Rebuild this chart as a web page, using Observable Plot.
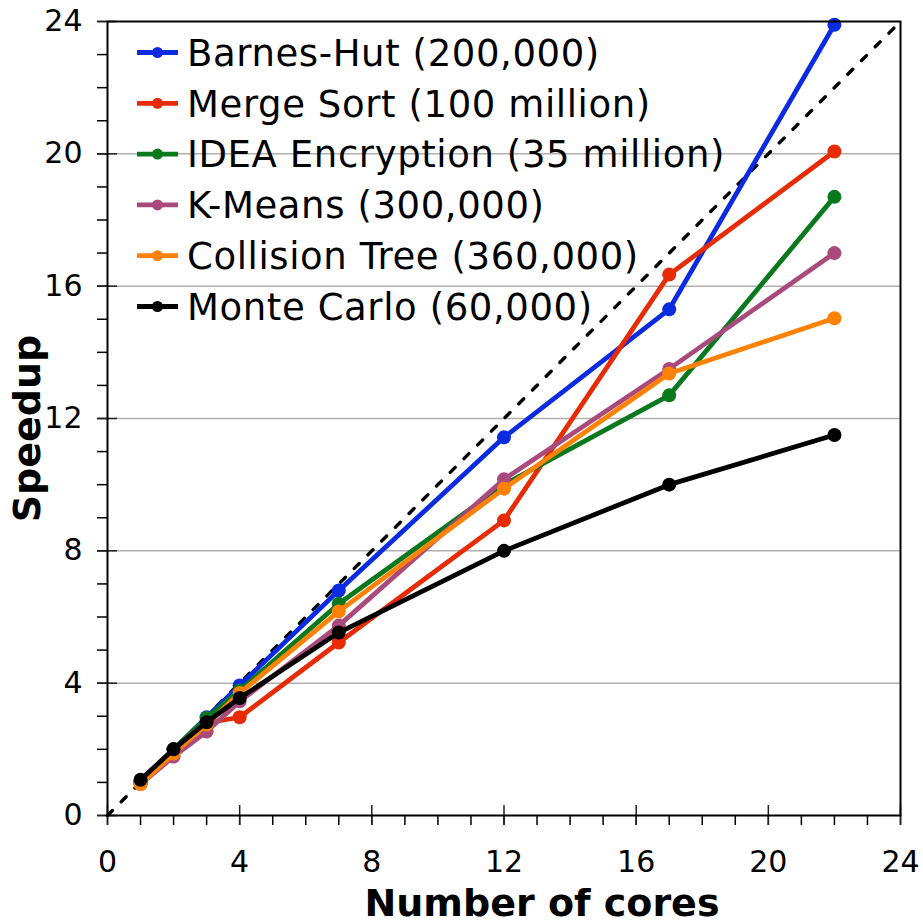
<!DOCTYPE html>
<html><head><meta charset="utf-8">
<script src="https://cdn.jsdelivr.net/npm/d3@7"></script>
<script src="https://cdn.jsdelivr.net/npm/@observablehq/plot@0.6"></script>
<style>
body{margin:0;background:#fff;font-family:"DejaVu Sans",Verdana,sans-serif}
#chart{position:relative;width:923px;height:921px}
</style>
</head><body><div id="chart"></div>
<script>
const cores = [1, 2, 3, 4, 7, 12, 17, 22];
const seriesNames = [
  "Barnes-Hut (200,000)",
  "Merge Sort (100 million)",
  "IDEA Encryption (35 million)",
  "K-Means (300,000)",
  "Collision Tree (360,000)",
  "Monte Carlo (60,000)"
];
const barnesHut  = [1.0, 2.0, 2.97, 3.93, 6.8, 11.43, 15.3, 23.9];
const mergeSort  = [1.0, 2.0, 2.8, 2.97, 5.23, 8.92, 16.35, 20.07];
const ideaEnc    = [1.0, 2.0, 2.95, 3.78, 6.4, 10.0, 12.7, 18.7];
const kMeans     = [0.95, 1.78, 2.54, 3.45, 5.74, 10.16, 13.5, 17.0];
const collision  = [0.95, 1.87, 2.75, 3.7, 6.17, 9.88, 13.36, 15.03];
const monteCarlo = [1.08, 2.0, 2.82, 3.55, 5.53, 8.0, 10.0, 11.5];
const seriesValues = [barnesHut, mergeSort, ideaEnc, kMeans, collision, monteCarlo];
const seriesColors = ["#0a2be0", "#e62b05", "#0a781c", "#aa4a7c", "#ff8205", "#000000"];
const majorTicks = [0, 4, 8, 12, 16, 20, 24];
const minorTicks = d3.range(0, 25, 1);
const gridTicks = [4, 8, 12, 16, 20];
const idealLine = [{x: 0, y: 0}, {x: 24, y: 24}];

const W = 923, H = 921;
const mL = 107, mR = 23, mT = 21, mB = 106;
const fw = W - mL - mR, fh = H - mT - mB;
const FONT = "'DejaVu Sans', Verdana, sans-serif";

const rows = [];
seriesNames.forEach((name, i) => {
  cores.forEach((c, j) => rows.push({series: name, cores: c, speedup: seriesValues[i][j]}));
});

const seriesMarks = [];
seriesNames.forEach((name, i) => {
  const d = rows.filter(r => r.series === name);
  seriesMarks.push(Plot.line(d, {x: "cores", y: "speedup", stroke: seriesColors[i], strokeWidth: 4.8, strokeLinejoin: "round"}));
  seriesMarks.push(Plot.dot(d, {x: "cores", y: "speedup", fill: seriesColors[i], r: 7}));
});

const plot = Plot.plot({
  width: W, height: H,
  marginLeft: mL, marginRight: mR, marginTop: mT, marginBottom: mB,
  style: {fontFamily: FONT, background: "white", overflow: "visible"},
  x: {domain: [0, 24], axis: null},
  y: {domain: [0, 24], axis: null},
  marks: [
    Plot.gridY(gridTicks, {stroke: "#b0b0b0", strokeOpacity: 1, strokeWidth: 1.5}),
    // minor ticks (outside)
    Plot.tickX(minorTicks, {x: d => d, insetTop: fh, insetBottom: -10, stroke: "#000", strokeWidth: 1.5}),
    Plot.tickY(minorTicks, {y: d => d, insetRight: fw, insetLeft: -10, stroke: "#000", strokeWidth: 1.5}),
    // major ticks (crossing the axis)
    Plot.tickX(majorTicks, {x: d => d, insetTop: fh - 10, insetBottom: -10, stroke: "#222", strokeWidth: 1.5}),
    Plot.tickY(majorTicks, {y: d => d, insetRight: fw - 10, insetLeft: -10, stroke: "#222", strokeWidth: 1.5}),
    // tick labels
    Plot.text(majorTicks, {x: d => d, text: d => String(d), frameAnchor: "bottom", textAnchor: "middle", lineAnchor: "middle", dy: 47, fontSize: 30, fill: "#000"}),
    Plot.text(majorTicks, {y: d => d, text: d => String(d), frameAnchor: "left", textAnchor: "end", lineAnchor: "middle", dx: -25, fontSize: 30, fill: "#000"}),
    Plot.line(idealLine, {x: "x", y: "y", stroke: "#000", strokeWidth: 3.4, strokeDasharray: "7,12.4"}),
    ...seriesMarks,
    Plot.frame({stroke: "#000", strokeWidth: 2}),
    Plot.text(["Number of cores"], {frameAnchor: "bottom", textAnchor: "middle", lineAnchor: "middle", dy: 88, dx: 38, fontSize: 38, fontWeight: "bold", fill: "#000"}),
    Plot.text(["Speedup"], {frameAnchor: "left", textAnchor: "middle", lineAnchor: "middle", dx: -80, dy: 10, rotate: -90, fontSize: 38, fontWeight: "bold", fill: "#000"})
  ]
});

document.getElementById("chart").appendChild(plot);

// legend
const svg = d3.select(plot);
const leg = svg.append("g").attr("class", "legend");
seriesNames.forEach((name, i) => {
  const cy = 52.5 + i * 50.8;
  const g = leg.append("g");
  g.append("line").attr("x1", 137).attr("x2", 178).attr("y1", cy).attr("y2", cy)
    .attr("stroke", seriesColors[i]).attr("stroke-width", 4.8);
  g.append("circle").attr("cx", 157.5).attr("cy", cy).attr("r", 5.5).attr("fill", seriesColors[i]);
  g.append("text").attr("x", 187).attr("y", cy).attr("dy", "0.36em")
    .attr("text-anchor", "start")
    .attr("font-size", 37).attr("letter-spacing", "0.6px").attr("fill", "#000")
    .attr("font-family", FONT)
    .text(name);
});
</script>
</body></html>
